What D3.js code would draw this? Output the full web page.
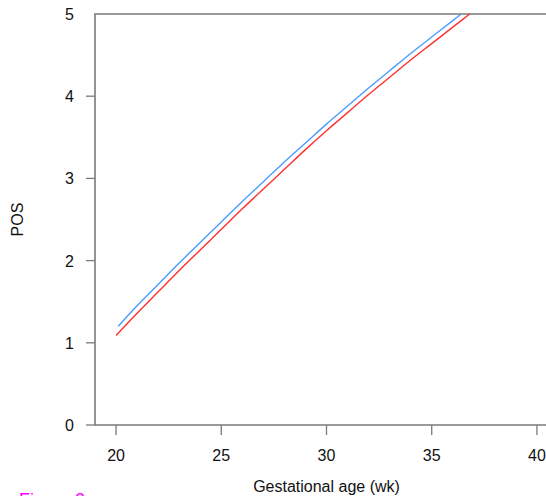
<!DOCTYPE html>
<html><head><meta charset="utf-8">
<script src="https://cdn.jsdelivr.net/npm/d3@7"></script>
<style>body{margin:0;background:#fff;overflow:hidden}text{font-family:"Liberation Sans",Arial,sans-serif}</style>
</head><body>
<svg id="c" width="546" height="496"></svg>
<script>
const xTicks = [20, 25, 30, 35, 40];
const yTicks = [0, 1, 2, 3, 4, 5];
const blueWeeks = [20.1, 21, 22, 23, 24, 25, 26, 27, 28, 29, 30, 31, 32, 33, 34, 35, 36, 36.4];
const blueValues = [1.20, 1.45, 1.71, 1.97, 2.22, 2.47, 2.72, 2.96, 3.20, 3.43, 3.66, 3.88, 4.10, 4.31, 4.52, 4.72, 4.92, 5.00];
const redWeeks = [20, 21, 22, 23, 24, 25, 26, 27, 28, 29, 30, 31, 32, 33, 34, 35, 36, 36.8];
const redValues = [1.09, 1.36, 1.62, 1.88, 2.13, 2.38, 2.63, 2.87, 3.11, 3.35, 3.58, 3.80, 4.02, 4.23, 4.44, 4.64, 4.84, 5.00];
const xLabel = "Gestational age (wk)";
const yLabel = "POS";
const caption = "Figure 2";

const svg = d3.select("#c");
const x = d3.scaleLinear().domain([19, 41]).range([95, 558]);
const y = d3.scaleLinear().domain([0, 5]).range([425, 14]);
const axisCol = "#7a7a7a";

svg.append("path")
  .attr("d", `M${x(41)},${y(5)}H${x(19)}V${y(0)}H${x(41)}`)
  .attr("fill", "none").attr("stroke", axisCol).attr("stroke-width", 1.6);

const gx = svg.append("g");
xTicks.forEach(t => {
  gx.append("line").attr("x1", x(t)).attr("x2", x(t)).attr("y1", y(0)).attr("y2", y(0) + 10)
    .attr("stroke", axisCol).attr("stroke-width", 1.3);
  gx.append("text").attr("x", x(t)).attr("y", 461).attr("text-anchor", "middle")
    .attr("font-size", 16).attr("fill", "#111").text(t);
});
const gy = svg.append("g");
yTicks.forEach(t => {
  if (t < 5) gy.append("line").attr("x1", x(19) - 9).attr("x2", x(19)).attr("y1", y(t)).attr("y2", y(t))
    .attr("stroke", axisCol).attr("stroke-width", 1.3);
  gy.append("text").attr("x", 74).attr("y", y(t) + 6).attr("text-anchor", "end")
    .attr("font-size", 16).attr("fill", "#111").text(t);
});

svg.append("text").attr("x", x(30)).attr("y", 492).attr("text-anchor", "middle")
  .attr("font-size", 16).attr("fill", "#111").text(xLabel);
svg.append("text").attr("transform", `translate(23,${y(2.5)}) rotate(-90)`).attr("text-anchor", "middle")
  .attr("font-size", 16).attr("fill", "#111").text(yLabel);
svg.append("text").attr("x", 19).attr("y", 506).attr("font-size", 18).attr("fill", "#ff00ff").text(caption);

const line = d3.line().x(d => x(d[0])).y(d => y(d[1])).curve(d3.curveMonotoneX);
svg.append("path").datum(d3.zip(redWeeks, redValues)).attr("d", line)
  .attr("fill", "none").attr("stroke", "#ff3030").attr("stroke-width", 1.4);
svg.append("path").datum(d3.zip(blueWeeks, blueValues)).attr("d", line)
  .attr("fill", "none").attr("stroke", "#4a9cff").attr("stroke-width", 1.4);
</script>
</body></html>
